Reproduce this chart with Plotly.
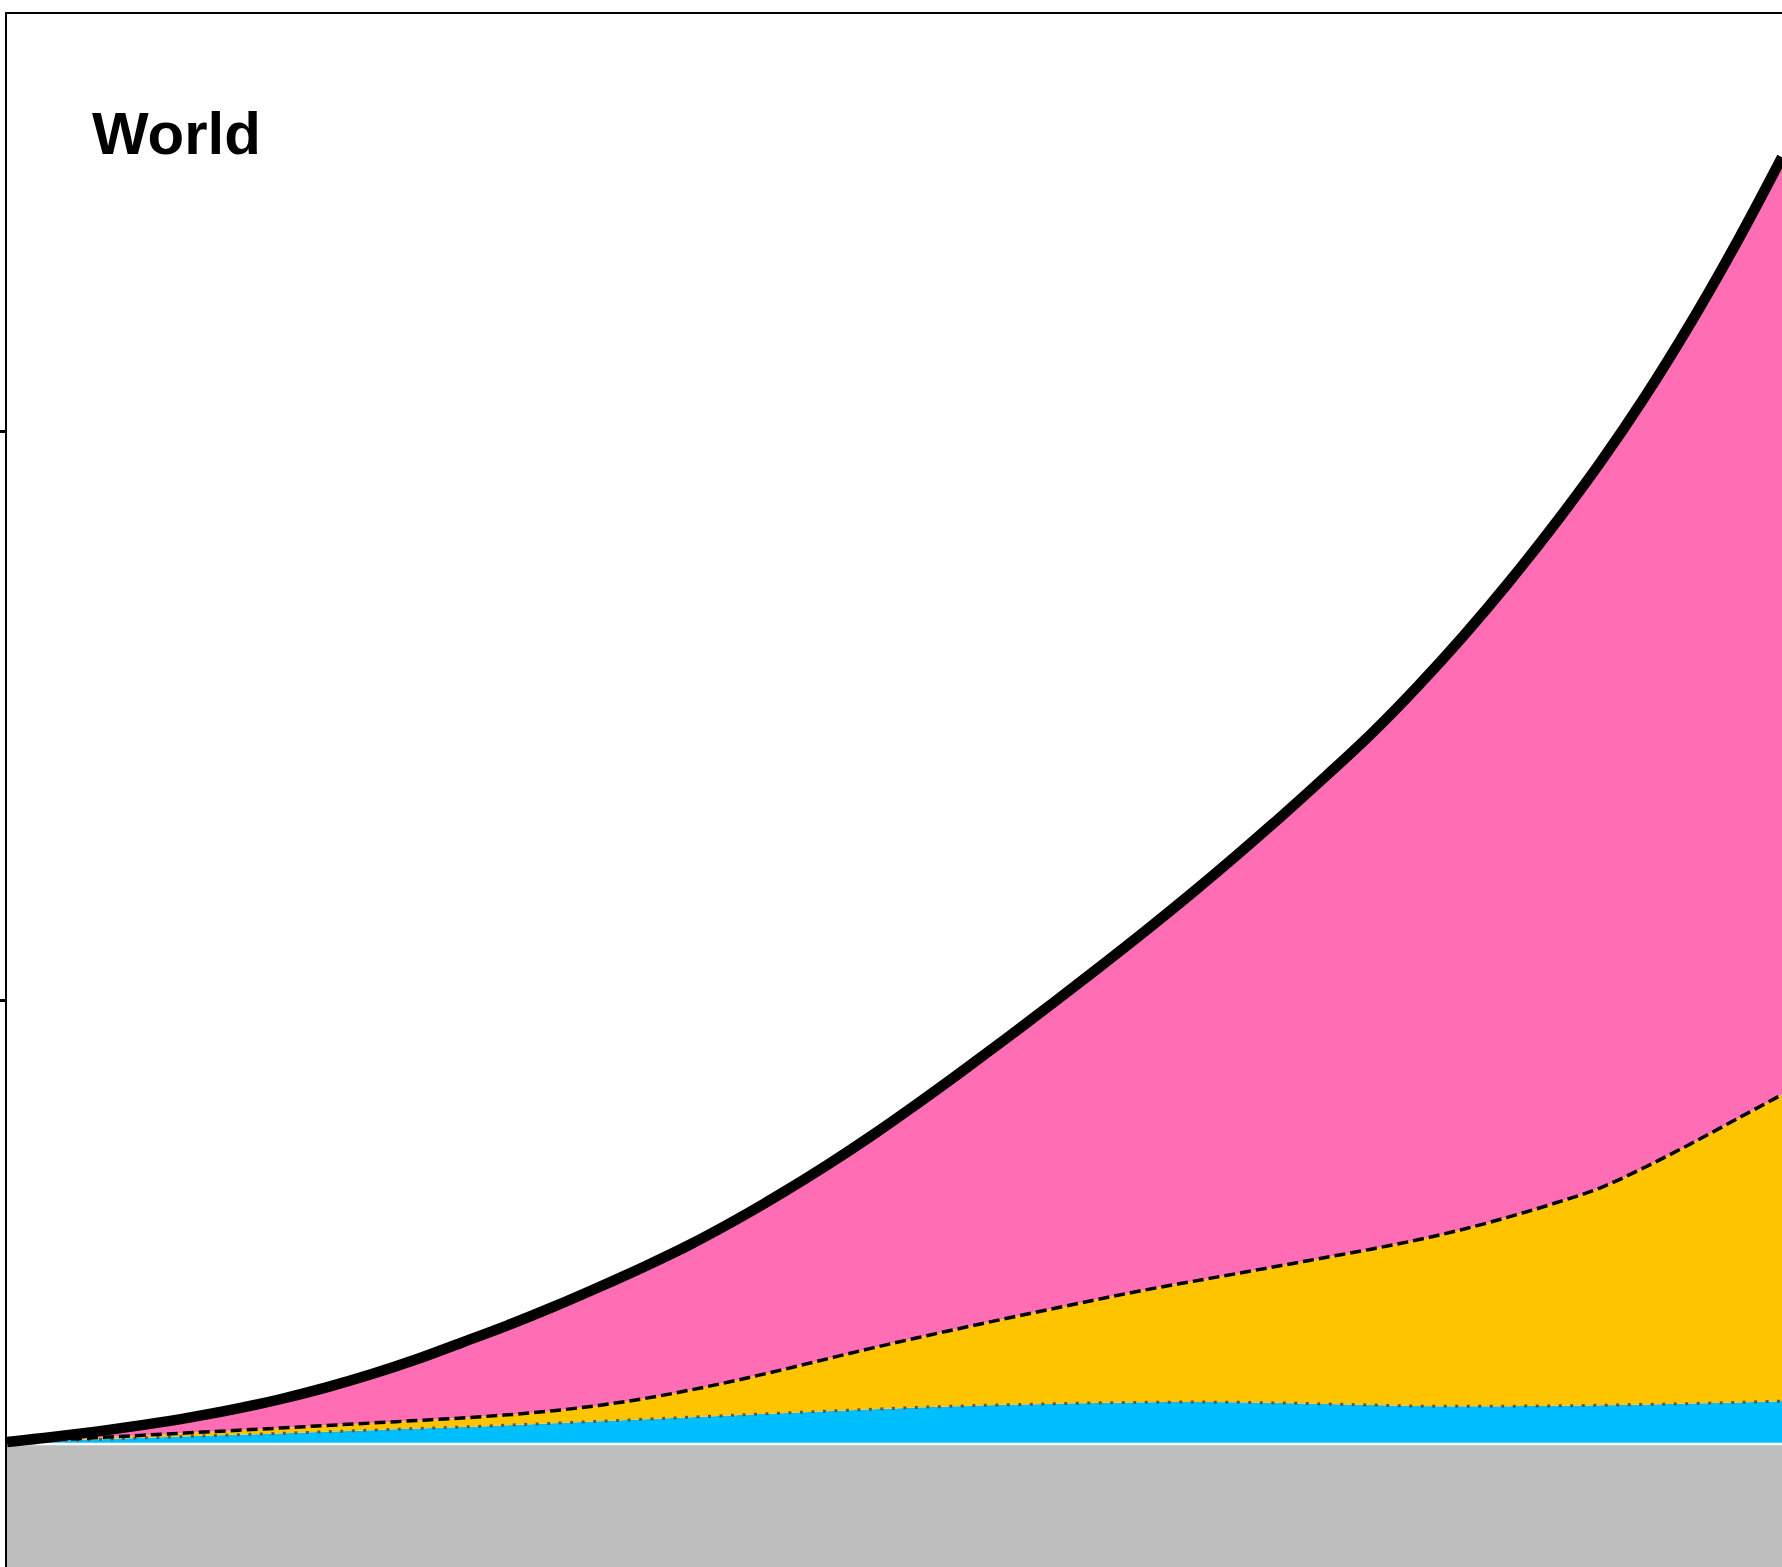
import plotly.graph_objects as go

# --- data ---
years = list(range(1830, 2030, 5))

total = [1.122, 1.166, 1.216, 1.273, 1.337, 1.411, 1.498, 1.600, 1.717, 1.849,
         1.997, 2.147, 2.309, 2.482, 2.663, 2.856, 3.071, 3.303, 3.551, 3.815,
         4.095, 4.385, 4.682, 4.985, 5.294, 5.609, 5.934, 6.271, 6.620, 6.981,
         7.355, 7.765, 8.205, 8.678, 9.184, 9.724, 10.314, 10.959, 11.659, 12.411]

yellow_top = [1.122, 1.141, 1.161, 1.182, 1.203, 1.224, 1.245, 1.267, 1.289, 1.311,
              1.334, 1.361, 1.397, 1.444, 1.504, 1.578, 1.662, 1.754, 1.851, 1.947,
              2.038, 2.126, 2.212, 2.296, 2.378, 2.458, 2.530, 2.601, 2.673, 2.746,
              2.819, 2.899, 2.992, 3.100, 3.220, 3.354, 3.539, 3.744, 3.959, 4.175]

blue_top = [1.122, 1.134, 1.146, 1.159, 1.172, 1.185, 1.198, 1.212, 1.226, 1.240,
            1.254, 1.270, 1.287, 1.304, 1.322, 1.340, 1.358, 1.376, 1.393, 1.410,
            1.426, 1.439, 1.450, 1.459, 1.466, 1.471, 1.473, 1.471, 1.465, 1.456,
            1.447, 1.438, 1.436, 1.437, 1.440, 1.445, 1.452, 1.460, 1.470, 1.482]

baseline = [1.105] * len(years)

y_ticks = [5, 10]

### Begin Plotting ###
fig = go.Figure()
shape = 'spline'

# filled bands
fig.add_trace(go.Scatter(x=years, y=baseline, mode='lines', line=dict(width=0),
                         fill='tozeroy', fillcolor='#BEBEBE', hoverinfo='skip', showlegend=False))
fig.add_trace(go.Scatter(x=years, y=blue_top, mode='lines', line=dict(width=0, shape=shape),
                         fill='tonexty', fillcolor='#00BFFF', hoverinfo='skip', showlegend=False))
fig.add_trace(go.Scatter(x=years, y=yellow_top, mode='lines', line=dict(width=0, shape=shape),
                         fill='tonexty', fillcolor='#FFC400', hoverinfo='skip', showlegend=False))
fig.add_trace(go.Scatter(x=years, y=total, mode='lines', line=dict(width=0, shape=shape),
                         fill='tonexty', fillcolor='#FF6EB4', hoverinfo='skip', showlegend=False))

# boundary lines
fig.add_trace(go.Scatter(x=years, y=baseline, mode='lines',
                         line=dict(color='white', width=2.5), showlegend=False))
fig.add_trace(go.Scatter(x=years, y=blue_top, mode='lines',
                         line=dict(color='#5a5a5a', width=3, dash='3px,8.5px', shape=shape), showlegend=False))
fig.add_trace(go.Scatter(x=years, y=yellow_top, mode='lines',
                         line=dict(color='black', width=3.5, dash='11px,5px', shape=shape), showlegend=False))
fig.add_trace(go.Scatter(x=years, y=total, mode='lines',
                         line=dict(color='black', width=10.5, shape=shape), showlegend=False))

fig.update_xaxes(range=[1830, 2025], side='top', showline=True, linecolor='black', linewidth=2,
                 showgrid=False, zeroline=False, showticklabels=False, ticks='')
fig.update_yaxes(range=[0.024, 13.67], showline=True, linecolor='black', linewidth=2,
                 tickvals=y_ticks, ticks='outside', ticklen=6, tickwidth=2.5, tickcolor='black',
                 showgrid=False, zeroline=False, showticklabels=False)

fig.add_annotation(text="<b>World</b>", xref='paper', yref='paper', x=0.047, y=0.923,
                   xanchor='left', yanchor='middle', showarrow=False,
                   font=dict(family='Liberation Sans, Arial, sans-serif', size=60, color='black'))

fig.update_layout(width=1782, height=1567, margin=dict(l=7, r=0, t=14, b=0),
                  plot_bgcolor='white', paper_bgcolor='white')

# drop the default page margin so the figure sits at the window's corner
fig.write_html("out.html", config={'displayModeBar': False},
               post_script="document.body.style.margin='0';document.body.style.overflow='hidden';")
